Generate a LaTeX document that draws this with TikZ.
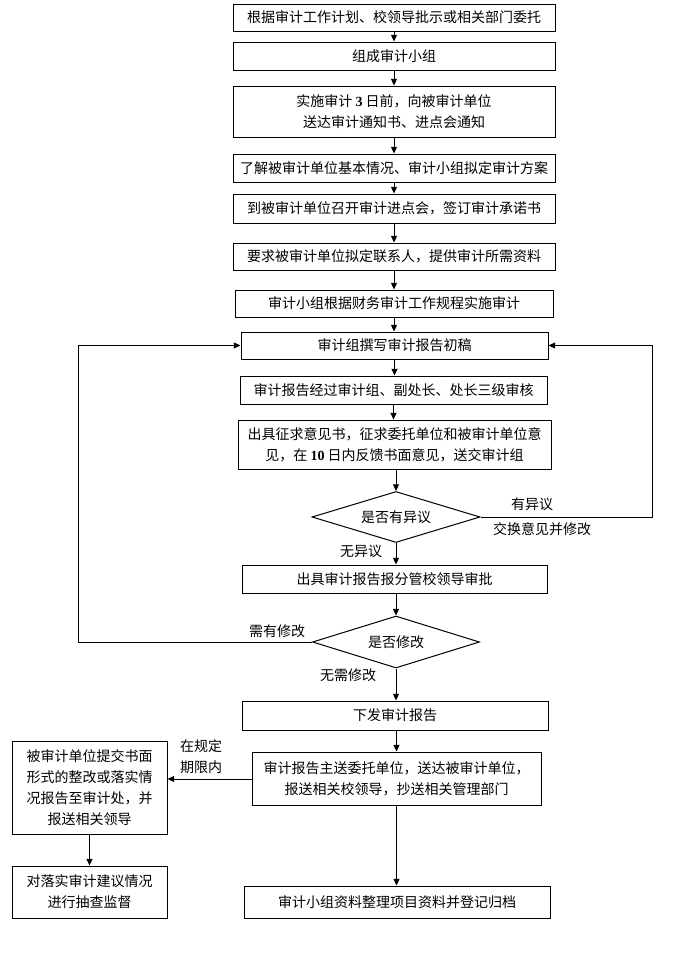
\documentclass[tikz,border=0pt]{standalone}
\usepackage{fontspec}
\setmainfont{Noto Sans CJK SC}
\newfontfamily\numf{Liberation Serif}
\usetikzlibrary{shapes.geometric,arrows.meta,calc}
\begin{document}
\begin{tikzpicture}[x=0.75pt,y=-0.75pt,
  every node/.style={font=\fontsize{10.5pt}{15.75pt}\selectfont, inner sep=0pt},
  bx/.style 2 args={draw, line width=0.75pt, minimum width=#1*0.75pt, minimum height=#2*0.75pt, align=center},
  dm/.style 2 args={draw, line width=0.75pt, diamond, shape aspect=3.3, minimum width=#1*0.75pt, minimum height=#2*0.75pt},
  lbl/.style={align=center},
  arr/.style={draw, line width=0.75pt, -{Triangle[length=5pt,width=4.5pt]}}]
\useasboundingbox (0,0) rectangle (680,967);
\fill[white] (0,0) rectangle (680,967);
% main column
\node[bx={322}{27}] (b1) at (394,17.5) {根据审计工作计划、校领导批示或相关部门委托};
\node[bx={322}{28}] (b2) at (394,56) {组成审计小组};
\node[bx={322}{51}] (b3) at (394,111.5) {实施审计 {\numf\bfseries 3} 日前，向被审计单位\\送达审计通知书、进点会通知};
\node[bx={322}{28}] (b4) at (394,168) {了解被审计单位基本情况、审计小组拟定审计方案};
\node[bx={322}{29}] (b5) at (394,208.5) {到被审计单位召开审计进点会，签订审计承诺书};
\node[bx={322}{27}] (b6) at (394,256.5) {要求被审计单位拟定联系人，提供审计所需资料};
\node[bx={318}{27}] (b7) at (394,303.5) {审计小组根据财务审计工作规程实施审计};
\node[bx={307}{27}] (b8) at (394.5,345.5) {审计组撰写审计报告初稿};
\node[bx={307}{28}] (b9) at (393.5,390) {审计报告经过审计组、副处长、处长三级审核};
\node[bx={313}{49}] (b10) at (394.5,444.5) {出具征求意见书，征求委托单位和被审计单位意\\见，在 {\numf\bfseries 10} 日内反馈书面意见，送交审计组};
\node[dm={168}{51}] (d1) at (396,517) {是否有异议};
\node[bx={305}{28}] (b11) at (394.5,579) {出具审计报告报分管校领导审批};
\node[dm={167}{52}] (d2) at (396,642) {是否修改};
\node[bx={306}{29}] (b12) at (395,715.5) {下发审计报告};
\node[bx={289}{53}] (b13) at (396.5,778.5) {审计报告主送委托单位，送达被审计单位，\\报送相关校领导，抄送相关管理部门};
\node[bx={155}{93}] (bA) at (89.5,787.5) {被审计单位提交书面\\形式的整改或落实情\\况报告至审计处，并\\报送相关领导};
\node[bx={155}{52}] (bB) at (89.5,892) {对落实审计建议情况\\进行抽查监督};
\node[bx={306}{32}] (b14) at (397,902) {审计小组资料整理项目资料并登记归档};
% labels
\node[lbl] (l1) at (532,504) {有异议};
\node[lbl] (l2) at (542,529) {交换意见并修改};
\node[lbl] (l3) at (361,551) {无异议};
\node[lbl] (l4) at (277,631) {需有修改};
\node[lbl] (l5) at (348,675) {无需修改};
\node[lbl] (l6) at (201,757) {在规定\\期限内};
% loop anchors
\coordinate (rx) at (652,517);
\coordinate (lx) at (78,642);
% connectors
\draw[arr] (b1.south) -- (b1.south |- b2.north);
\draw[arr] (b2.south) -- (b2.south |- b3.north);
\draw[arr] (b3.south) -- (b3.south |- b4.north);
\draw[arr] (b4.south) -- (b4.south |- b5.north);
\draw[arr] (b5.south) -- (b5.south |- b6.north);
\draw[arr] (b6.south) -- (b6.south |- b7.north);
\draw[arr] (b7.south) -- (b7.south |- b8.north);
\draw[arr] (b8.south) -- (b8.south |- b9.north);
\draw[arr] (b9.south) -- (b9.south |- b10.north);
\draw[arr] (d1.north |- b10.south) -- (d1.north);
\draw[arr] (d1.south) -- (d1.south |- b11.north);
\draw[arr] (d2.north |- b11.south) -- (d2.north);
\draw[arr] (d2.south) -- (d2.south |- b12.north);
\draw[arr] (b12.south -| b13.north) -- (b13.north);
\draw[arr] (b13.south) -- (b13.south |- b14.north);
\draw[arr] (bA.south) -- (bB.north);
\draw[arr] (b13.west |- 0,779) -- (bA.east |- 0,779);
\draw[arr] (d1.east) -- (rx) |- (b8.east);
\draw[arr] (d2.west) -- (lx) |- (b8.west);
\end{tikzpicture}
\end{document}
